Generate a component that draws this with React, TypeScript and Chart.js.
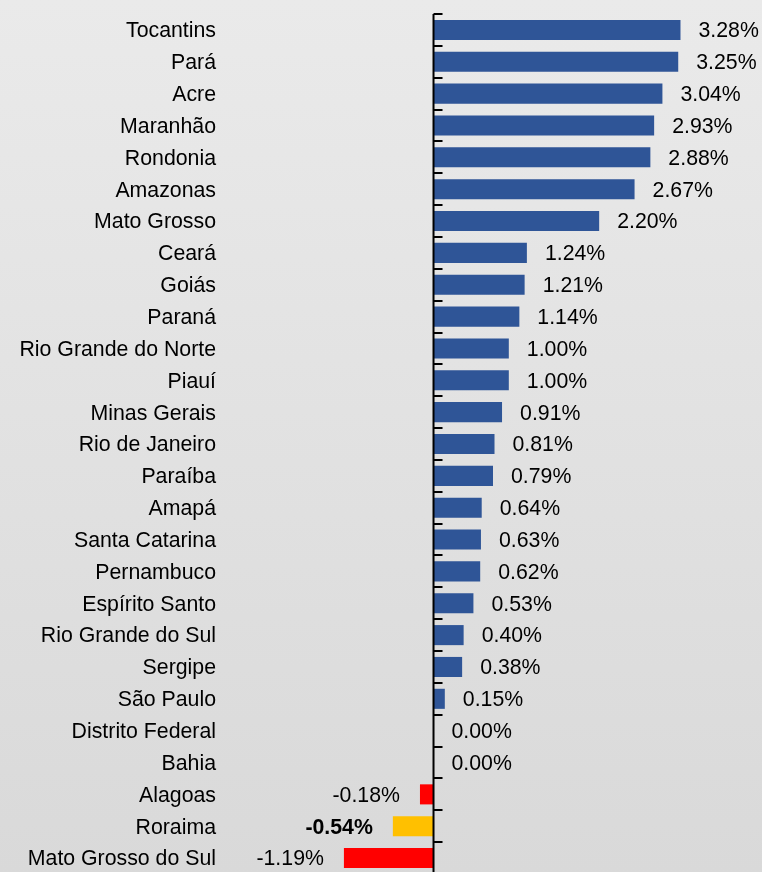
import React, { useEffect, useRef } from "react";
import { Chart, registerables } from "chart.js";

Chart.register(...registerables);

const categories = [
  "Tocantins", "Pará", "Acre", "Maranhão", "Rondonia", "Amazonas", "Mato Grosso",
  "Ceará", "Goiás", "Paraná", "Rio Grande do Norte", "Piauí", "Minas Gerais",
  "Rio de Janeiro", "Paraíba", "Amapá", "Santa Catarina", "Pernambuco",
  "Espírito Santo", "Rio Grande do Sul", "Sergipe", "São Paulo", "Distrito Federal",
  "Bahia", "Alagoas", "Roraima", "Mato Grosso do Sul",
];

const values = [
  3.28, 3.25, 3.04, 2.93, 2.88, 2.67, 2.2, 1.24, 1.21, 1.14, 1.0, 1.0, 0.91,
  0.81, 0.79, 0.64, 0.63, 0.62, 0.53, 0.4, 0.38, 0.15, 0.0, 0.0, -0.18, -0.54, -1.19,
];

const highlight = "Roraima";

const FONT = "'Liberation Sans', Arial, sans-serif";
const FSIZE = 21.3;

const barColors = categories.map((c, i) =>
  c === highlight ? "#FFC000" : values[i] < 0 ? "#FF0000" : "#2F5597"
);

const axisPlugin = {
  id: "zeroAxis",
  afterDatasetsDraw(chart: any) {
    const { ctx, chartArea, scales } = chart;
    const x0 = scales.x.getPixelForValue(0);
    ctx.save();
    ctx.strokeStyle = "#000";
    ctx.lineWidth = 2;
    ctx.beginPath();
    ctx.moveTo(x0, chartArea.top);
    ctx.lineTo(x0, chartArea.bottom);
    ctx.stroke();
    const n = categories.length;
    const step = (chartArea.bottom - chartArea.top) / n;
    ctx.lineWidth = 2;
    for (let i = 0; i <= n; i++) {
      const y = Math.round(chartArea.top + i * step);
      ctx.beginPath();
      ctx.moveTo(x0, y);
      ctx.lineTo(x0 + 9, y);
      ctx.stroke();
    }
    const meta = chart.getDatasetMeta(0);
    meta.data.forEach((bar: any, i: number) => {
      const v = values[i];
      const bold = categories[i] === highlight;
      ctx.font = `${bold ? "bold " : ""}${FSIZE}px ${FONT}`;
      ctx.fillStyle = "#000";
      ctx.textBaseline = "middle";
      const txt = v.toFixed(2) + "%";
      if (v < 0) {
        ctx.textAlign = "right";
        ctx.fillText(txt, bar.x - 20, bar.y + 1.5);
      } else {
        ctx.textAlign = "left";
        ctx.fillText(txt, Math.max(bar.x, x0) + 18, bar.y + 1.5);
      }
    });
    ctx.restore();
  },
};

export default function App() {
  const ref = useRef<HTMLCanvasElement>(null);
  useEffect(() => {
    document.body.style.margin = "0";
    const chart = new Chart(ref.current!, {
      type: "bar",
      data: {
        labels: categories,
        datasets: [
          {
            data: values,
            backgroundColor: barColors,
            barPercentage: 0.63,
            categoryPercentage: 1,
            borderWidth: 0,
          },
        ],
      },
      options: {
        indexAxis: "y",
        responsive: false,
        animation: false,
        devicePixelRatio: 1,
        layout: { padding: { top: 14, right: 0, bottom: 0, left: 0 } },
        plugins: { legend: { display: false }, tooltip: { enabled: false } },
        scales: {
          x: {
            display: false,
            min: -2.756,
            max: 4.3625,
          },
          y: {
            grid: { display: false, drawTicks: false },
            border: { display: false },
            ticks: {
              padding: 10,
              labelOffset: 1.5,
              color: "#000",
              font: { family: FONT, size: FSIZE },
            },
            afterFit(scale: any) {
              scale.width = 226;
              scale.paddingTop = 0;
              scale.paddingBottom = 0;
            },
          },
        },
      },
      plugins: [axisPlugin],
    });
    return () => chart.destroy();
  }, []);
  return (
    <div
      style={{
        position: "absolute",
        top: 0,
        left: 0,
        width: 762,
        height: 874,
        overflow: "hidden",
        background: "linear-gradient(to bottom, #eaeaea 0%, #d9d9d9 100%)",
      }}
    >
      <canvas ref={ref} width={762} height={874} />
    </div>
  );
}
